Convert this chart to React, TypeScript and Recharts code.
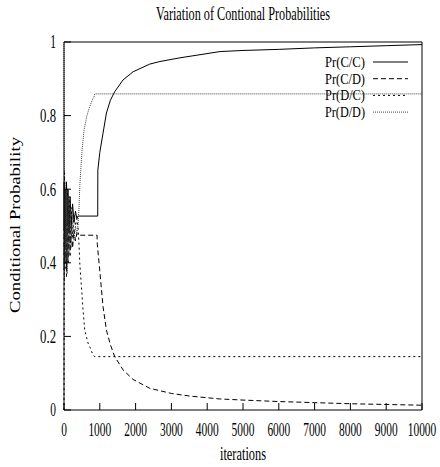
import { LineChart, Line, XAxis, YAxis } from "recharts";

// iterations sampled in the noisy start-up phase (shared by all four series)
const noiseIters = [0, 5, 15, 30, 50, 70, 90, 110, 140, 170, 200, 240, 280, 320, 360, 390];

const ccIters = [...noiseIters, 942, 945, 1000, 1090, 1185, 1297, 1417, 1650, 1929, 2396, 2680, 3240, 4360, 5000, 6000, 7000, 8000, 9000, 10000];
const ccValues = [
  0.5, 0.62, 0.45, 0.6, 0.47, 0.62, 0.5, 0.6, 0.48, 0.58, 0.5, 0.56, 0.51, 0.54, 0.52, 0.527,
  0.527, 0.652, 0.7, 0.752, 0.807, 0.842, 0.865, 0.897, 0.919, 0.94, 0.947, 0.957, 0.974, 0.977, 0.98, 0.984, 0.987, 0.99, 0.993,
];

const cdIters = [...noiseIters, 923, 930, 998, 1090, 1185, 1297, 1417, 1650, 1929, 2396, 3000, 3500, 4350, 5000, 6000, 7000, 8000, 9000, 10000];
const cdValues = [
  0.5, 0.38, 0.55, 0.4, 0.53, 0.38, 0.5, 0.4, 0.52, 0.42, 0.5, 0.44, 0.49, 0.46, 0.48, 0.475,
  0.475, 0.45, 0.38, 0.281, 0.217, 0.177, 0.145, 0.109, 0.083, 0.059, 0.045, 0.038, 0.03, 0.027, 0.023, 0.02, 0.017, 0.015, 0.013,
];

const dcIters = [...noiseIters, 420, 440, 532, 579, 671, 719, 811, 858, 10000];
const dcValues = [
  0.0, 0.3, 0.65, 0.38, 0.6, 0.36, 0.6, 0.4, 0.58, 0.45, 0.55, 0.47, 0.53, 0.5, 0.52, 0.5,
  0.45, 0.4, 0.272, 0.217, 0.182, 0.172, 0.149, 0.145, 0.145,
];

const ddIters = [...noiseIters, 420, 440, 500, 560, 640, 718, 800, 839, 858, 10000];
const ddValues = [
  1.0, 0.72, 0.35, 0.62, 0.4, 0.6, 0.37, 0.58, 0.42, 0.55, 0.44, 0.53, 0.46, 0.5, 0.48, 0.5,
  0.55, 0.607, 0.7, 0.761, 0.8, 0.824, 0.845, 0.851, 0.859, 0.859,
];

const seriesNames = ["Pr(C/C)", "Pr(C/D)", "Pr(D/C)", "Pr(D/D)"];
const xTicks = [0, 1000, 2000, 3000, 4000, 5000, 6000, 7000, 8000, 9000, 10000];
const yTicks = [0, 0.2, 0.4, 0.6, 0.8, 1];

const toPoints = (iters: number[], values: number[]) =>
  iters.map((iter, i) => ({ iter, p: values[i] }));

const FONT = "'Liberation Serif', 'Times New Roman', serif";
const W = 440;
const H = 467;
const TICK = 7;

// the original text is narrow and tall, so squeeze it with textLength
const textWidth = (s: string) =>
  s.split("").reduce((w, ch) => w + (ch === "." ? 4.5 : 5.7), 0);

const styles = [
  { stroke: "#000", dash: undefined as string | undefined },
  { stroke: "#000", dash: "5 3" },
  { stroke: "#000", dash: "2 3" },
  { stroke: "#444", dash: "1 1" },
];

const BottomTick = ({ x, y, payload }: any) => {
  const label = String(payload.value);
  return (
    <g>
      <line x1={x} y1={y} x2={x} y2={y - TICK} stroke="#000" />
      <text
        x={x}
        y={y + 26}
        textAnchor="middle"
        fontFamily={FONT}
        fontSize={18}
        fill="#000"
        textLength={textWidth(label)}
        lengthAdjust="spacingAndGlyphs"
      >
        {label}
      </text>
    </g>
  );
};

const LeftTick = ({ x, y, payload }: any) => {
  const label = String(payload.value);
  return (
    <g>
      <line x1={x} y1={y} x2={x + TICK} y2={y} stroke="#000" />
      <text
        x={x - 8}
        y={y + 6.3}
        textAnchor="end"
        fontFamily={FONT}
        fontSize={18}
        fill="#000"
        textLength={textWidth(label)}
        lengthAdjust="spacingAndGlyphs"
      >
        {label}
      </text>
    </g>
  );
};

const TopTick = ({ x, y }: any) => (
  <line x1={x} y1={y} x2={x} y2={y + TICK} stroke="#000" />
);

const RightTick = ({ x, y }: any) => (
  <line x1={x} y1={y} x2={x - TICK} y2={y} stroke="#000" />
);

export default function App() {
  const series = [
    toPoints(ccIters, ccValues),
    toPoints(cdIters, cdValues),
    toPoints(dcIters, dcValues),
    toPoints(ddIters, ddValues),
  ];

  return (
    <div style={{ position: "absolute", left: 0, top: 0, width: W, height: H, background: "#fff" }}>
      <LineChart width={W} height={H} margin={{ top: 0, right: 0, bottom: 0, left: 0 }}>
        <XAxis
          dataKey="iter"
          type="number"
          domain={[0, 10000]}
          ticks={xTicks}
          interval={0}
          height={57}
          tickSize={0}
          tickMargin={0}
          tickLine={false}
          axisLine={{ stroke: "#000" }}
          tick={BottomTick}
        />
        <XAxis
          xAxisId="top"
          orientation="top"
          dataKey="iter"
          type="number"
          domain={[0, 10000]}
          ticks={xTicks}
          interval={0}
          height={42}
          tickSize={0}
          tickMargin={0}
          tickLine={false}
          axisLine={{ stroke: "#000" }}
          tick={TopTick}
        />
        <YAxis
          type="number"
          domain={[0, 1]}
          ticks={yTicks}
          interval={0}
          width={64}
          tickSize={0}
          tickMargin={0}
          tickLine={false}
          axisLine={{ stroke: "#000" }}
          tick={LeftTick}
        />
        <YAxis
          yAxisId="right"
          orientation="right"
          type="number"
          domain={[0, 1]}
          ticks={yTicks}
          interval={0}
          width={18}
          tickSize={0}
          tickMargin={0}
          tickLine={false}
          axisLine={{ stroke: "#000" }}
          tick={RightTick}
        />
        {series.map((data, i) => (
          <Line
            key={seriesNames[i]}
            data={data}
            dataKey="p"
            name={seriesNames[i]}
            type="linear"
            stroke={styles[i].stroke}
            strokeDasharray={styles[i].dash}
            strokeWidth={1}
            dot={false}
            activeDot={false}
            isAnimationActive={false}
          />
        ))}
      </LineChart>

      <svg
        width={W}
        height={H}
        style={{ position: "absolute", left: 0, top: 0, pointerEvents: "none" }}
      >
        <text
          x={243}
          y={20}
          textAnchor="middle"
          fontFamily={FONT}
          fontSize={18}
          fill="#000"
          textLength={174}
          lengthAdjust="spacingAndGlyphs"
        >
          Variation of Contional Probabilities
        </text>
        <text
          transform="translate(20,225) rotate(-90)"
          textAnchor="middle"
          fontFamily={FONT}
          fontSize={14}
          fill="#000"
          textLength={176}
          lengthAdjust="spacingAndGlyphs"
        >
          Conditional Probability
        </text>
        <text
          x={243}
          y={460}
          textAnchor="middle"
          fontFamily={FONT}
          fontSize={18}
          fill="#000"
          textLength={46}
          lengthAdjust="spacingAndGlyphs"
        >
          iterations
        </text>
        {seriesNames.map((name, i) => {
          const base = 67 + i * 16.7;
          return (
            <g key={name}>
              <text
                x={365}
                y={base}
                textAnchor="end"
                fontFamily={FONT}
                fontSize={15}
                fill="#000"
                textLength={40}
                lengthAdjust="spacingAndGlyphs"
              >
                {name}
              </text>
              <line
                x1={373}
                x2={408}
                y1={base - 5}
                y2={base - 5}
                stroke={styles[i].stroke}
                strokeDasharray={styles[i].dash}
                strokeWidth={1}
              />
            </g>
          );
        })}
      </svg>
    </div>
  );
}
